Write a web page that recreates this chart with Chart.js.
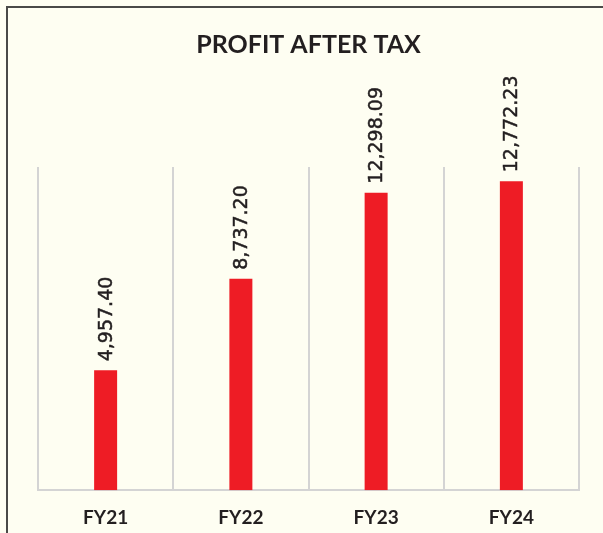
<!DOCTYPE html>
<html>
<head>
<meta charset="utf-8">
<script src="https://cdn.jsdelivr.net/npm/chart.js@4/dist/chart.umd.min.js"></script>
<style>
  html, body { margin: 0; padding: 0; background: #fefef2; overflow: hidden; }
  #wrap { position: relative; width: 603px; height: 533px; overflow: hidden; }
  #frame {
    position: absolute; left: 6px; top: 6px; right: 0; bottom: 0;
    border-left: 2px solid #4a4a48; border-top: 2px solid #4a4a48;
  }
  canvas { position: absolute; left: 0; top: 0; }
</style>
</head>
<body>
<div id="wrap">
  <div id="frame"></div>
  <canvas id="chart" width="603" height="545"></canvas>
</div>
<script>
// data
const years = ['FY21', 'FY22', 'FY23', 'FY24'];
const profitAfterTax = [4957.40, 8737.20, 12298.09, 12772.23];
const chartTitle = 'PROFIT AFTER TAX';

// rotated value labels above each bar
const barLabels = {
    id: 'barLabels',
    afterDatasetsDraw(chart) {
        const ctx = chart.ctx;
        const meta = chart.getDatasetMeta(0);
        ctx.save();
        ctx.fillStyle = '#231f20';
        ctx.strokeStyle = '#231f20';
        ctx.lineWidth = 0.5;
        ctx.font = '19px "DejaVu Sans"';
        ctx.textAlign = 'left';
        ctx.textBaseline = 'middle';
        meta.data.forEach((bar, i) => {
            const txt = profitAfterTax[i].toLocaleString('en-US', {
                minimumFractionDigits: 2, maximumFractionDigits: 2
            });
            ctx.save();
            ctx.translate(bar.x + 1, bar.y - 9);
            ctx.rotate(-Math.PI / 2);
            ctx.fillText(txt, 0, 0);
            ctx.strokeText(txt, 0, 0);
            ctx.restore();
        });
        ctx.restore();
    }
};

new Chart(document.getElementById('chart'), {
    type: 'bar',
    data: {
        labels: years,
        datasets: [{
            data: profitAfterTax,
            backgroundColor: '#ee1c25',
            barPercentage: 0.17,
            categoryPercentage: 1
        }]
    },
    options: {
        responsive: false,
        animation: false,
        layout: { padding: { left: 38, right: 24, top: 0, bottom: 0 } },
        plugins: {
            legend: { display: false },
            tooltip: { enabled: false },
            title: {
                display: true,
                text: chartTitle,
                color: '#231f20',
                font: { family: 'Lato', size: 25, weight: 'bold' },
                padding: { top: 30, bottom: 107 }
            }
        },
        scales: {
            x: {
                grid: {
                    offset: true,
                    color: '#d4d4d4',
                    lineWidth: 2,
                    drawTicks: false
                },
                border: { color: '#d4d4d4', width: 2 },
                ticks: {
                    color: '#231f20',
                    font: { family: 'Lato', size: 19, weight: 'bold' },
                    padding: 16
                }
            },
            y: {
                display: false,
                min: 0,
                max: 13360
            }
        }
    },
    plugins: [barLabels]
});
</script>
</body>
</html>
